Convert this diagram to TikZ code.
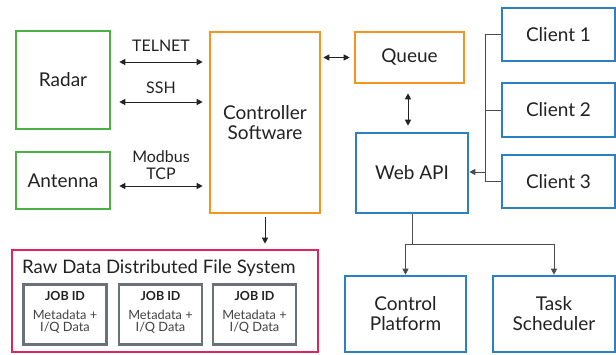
\documentclass[tikz,border=0pt]{standalone}
\usepackage{fontspec}
\setmainfont{Lato}
\usetikzlibrary{arrows.meta,calc}
\definecolor{cgreen}{HTML}{4DB045}
\definecolor{corange}{HTML}{F7941D}
\definecolor{cblue}{HTML}{2B80C2}
\definecolor{cred}{HTML}{E0245E}
\definecolor{cgrey}{HTML}{6B717A}
\definecolor{ctext}{HTML}{222222}
\begin{document}
\begin{tikzpicture}[x=1pt,y=-1pt,
  box/.style={draw, line width=2.6pt, fill=white, inner sep=0pt, align=center, text=ctext, font=\fontsize{19}{20}\selectfont},
  gbox/.style={box, draw=cgreen},
  obox/.style={box, draw=corange},
  bbox/.style={box, draw=cblue},
  jobbox/.style={draw=cgrey, line width=2.6pt, inner sep=0pt, align=center, text=ctext, minimum width=83pt, minimum height=60pt},
  lbl/.style={text=ctext, font=\fontsize{16}{16.5}\selectfont, align=center, inner sep=0pt},
  conn/.style={line width=1pt, draw=ctext, -{Triangle[length=6pt,width=6pt]}},
  bconn/.style={line width=1pt, draw=ctext, {Triangle[length=6pt,width=6pt]}-{Triangle[length=6pt,width=6pt]}},
  wire/.style={line width=1pt, draw=black!70}
]
\useasboundingbox (0,0) rectangle (616,354);
% nodes
\node[gbox, minimum width=94pt, minimum height=98pt] (radar) at (63,80) {Radar};
\node[gbox, minimum width=94pt, minimum height=57pt] (antenna) at (63,180.5) {Antenna};
\node[obox, minimum width=110pt, minimum height=181pt] (ctrl) at (265,122.5) {Controller\\Software};
\node[obox, minimum width=109pt, minimum height=51pt] (queue) at (409.5,57.5) {Queue};
\node[bbox, minimum width=112pt, minimum height=80pt] (webapi) at (412,173) {Web API};
\node[bbox, minimum width=113pt, minimum height=53pt] (c1) at (558.5,34.5) {Client 1};
\node[bbox, minimum width=113pt, minimum height=54pt] (c2) at (558.5,110) {Client 2};
\node[bbox, minimum width=113pt, minimum height=53pt] (c3) at (558.5,181.5) {Client 3};
\node[bbox, minimum width=121pt, minimum height=76pt] (cp) at (405.5,314) {Control\\Platform};
\node[bbox, minimum width=122pt, minimum height=76pt] (ts) at (554,314) {Task\\Scheduler};
\node[box, draw=cred, minimum width=306pt, minimum height=102pt] (fs) at (165,301) {};
\node[anchor=west, inner sep=0pt, text=ctext, font=\fontsize{18.6}{19}\selectfont] (fstitle) at (22,268) {Raw Data Distributed File System};
\node[jobbox] (j1) at (65,314.5) {};
\node[jobbox] (j2) at (160.5,314.5) {};
\node[jobbox] (j3) at (254.5,314.5) {};
\foreach \j in {j1,j2,j3}{
  \node[text=ctext, font=\fontsize{12.5}{13}\selectfont\bfseries, inner sep=0pt] at ($(\j.north)+(0,13)$) {JOB ID};
  \node[text=ctext!85, font=\fontsize{12.8}{12}\selectfont, align=center, inner sep=0pt] at ($(\j.north)+(0,38.5)$) {Metadata +\\I/Q Data};
}
% labels
\node[lbl] (ltelnet) at (161,46) {TELNET};
\node[lbl] (lssh) at (161,88) {SSH};
\node[lbl] (lmod) at (161,165) {Modbus\\TCP};
% connectors left
\draw[bconn, shorten <=8pt, shorten >=6pt] ([yshift=18pt]radar.east) -- ([yshift=18pt]radar.east -| ctrl.west);
\draw[bconn, shorten <=8pt, shorten >=6pt] ([yshift=-22pt]radar.east) -- ([yshift=-22pt]radar.east -| ctrl.west);
\draw[bconn, shorten <=8pt, shorten >=6pt] ([yshift=-5.5pt]antenna.east) -- ([yshift=-5.5pt]antenna.east -| ctrl.west);
% controller - queue
\draw[bconn, shorten <=2pt, shorten >=4pt] (ctrl.east |- queue.west) -- (queue.west);
% queue - webapi
\draw[bconn, shorten <=9pt, shorten >=6pt] ([xshift=-1.5pt]queue.south) -- ([xshift=-1.5pt]queue.south |- webapi.north);
% controller - fs
\draw[conn, shorten <=3pt, shorten >=5pt] (ctrl.south) -- (ctrl.south |- fs.north);
% clients bus
\coordinate (bus) at (485,0);
\draw[wire] (c1.west) -- (c1.west -| bus) -- (c3.west -| bus) -- (c3.west);
\draw[wire] (c2.west) -- (c2.west -| bus);
\draw[wire, -{Triangle[length=6pt,width=6pt]}, draw=black!70] ([yshift=1pt]bus |- webapi.east) -- ([yshift=1pt]webapi.east);
% webapi to bottom
\coordinate (split) at (412,244);
\draw[wire, -{Triangle[length=6pt,width=6pt]}] (webapi.south) -- (split) -| (cp.north);
\draw[wire, -{Triangle[length=6pt,width=6pt]}] (split) -| (ts.north);
\end{tikzpicture}
\end{document}
